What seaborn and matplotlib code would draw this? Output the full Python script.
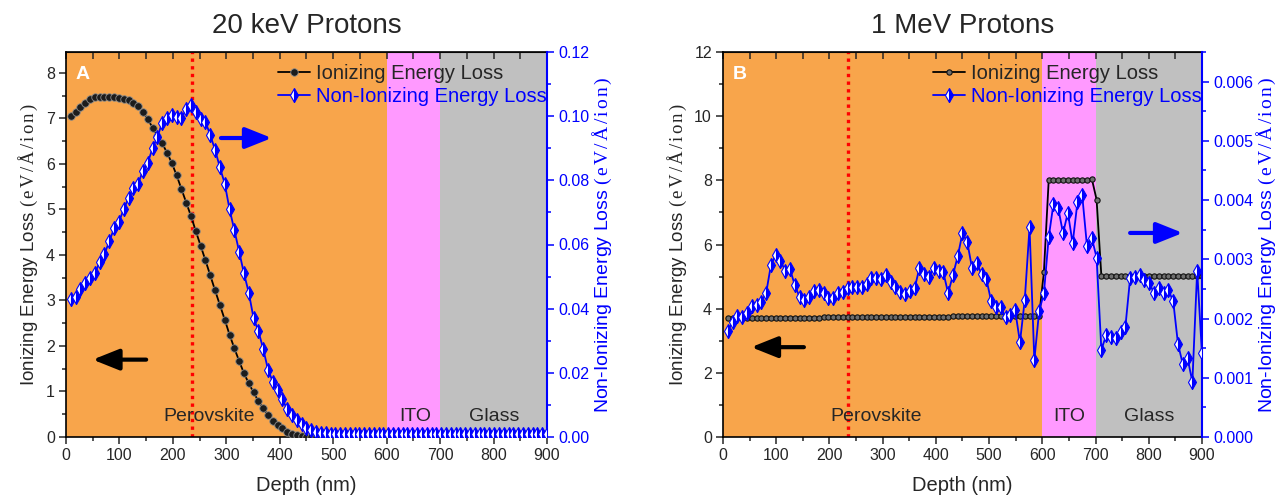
import numpy as np
import seaborn as sns
import matplotlib.pyplot as plt
from matplotlib.ticker import MultipleLocator, FormatStrFormatter
import matplotlib.transforms as mtransforms

# SRIM output, 100 depth bins of 9 nm through perovskite / ITO / glass
depth_nm = np.arange(9, 901, 9)

iel_20kev = [
    7.05, 7.15, 7.25, 7.35, 7.43, 7.47, 7.48, 7.48, 7.48, 7.47,
    7.46, 7.43, 7.40, 7.35, 7.27, 7.15, 6.98, 6.80, 6.62, 6.45,
    6.25, 6.02, 5.75, 5.45, 5.15, 4.85, 4.52, 4.20, 3.88, 3.55,
    3.22, 2.90, 2.58, 2.25, 1.95, 1.67, 1.40, 1.18, 0.98, 0.79,
    0.63, 0.48, 0.36, 0.27, 0.19, 0.12, 0.07, 0.04, 0.02, 0.01,
    0.0, 0.0, 0.0, 0.0, 0.0, 0.0, 0.0, 0.0, 0.0, 0.0,
    0.0, 0.0, 0.0, 0.0, 0.0, 0.0, 0.0, 0.0, 0.0, 0.0,
    0.0, 0.0, 0.0, 0.0, 0.0, 0.0, 0.0, 0.0, 0.0, 0.0,
    0.0, 0.0, 0.0, 0.0, 0.0, 0.0, 0.0, 0.0, 0.0, 0.0,
    0.0, 0.0, 0.0, 0.0, 0.0, 0.0, 0.0, 0.0, 0.0, 0.0,
]
niel_20kev = [
    0.0430, 0.0437, 0.0460, 0.0480, 0.0495, 0.0510, 0.0545, 0.0570, 0.0610, 0.0650,
    0.0670, 0.0710, 0.0745, 0.0775, 0.0790, 0.0830, 0.0855, 0.0900, 0.0935, 0.0980,
    0.0995, 0.1003, 0.0998, 0.0993, 0.1022, 0.1035, 0.1012, 0.0990, 0.0983, 0.0940,
    0.0895, 0.0840, 0.0790, 0.0710, 0.0645, 0.0578, 0.0510, 0.0450, 0.0370, 0.0330,
    0.0275, 0.0210, 0.0172, 0.0146, 0.0117, 0.0086, 0.0070, 0.0052, 0.0039, 0.0029,
    0.0021, 0.0017, 0.0013, 0.0011, 0.0008, 0.0008, 0.0008, 0.0008, 0.0008, 0.0008,
    0.0008, 0.0008, 0.0008, 0.0008, 0.0008, 0.0008, 0.0008, 0.0008, 0.0008, 0.0008,
    0.0008, 0.0008, 0.0008, 0.0008, 0.0008, 0.0008, 0.0008, 0.0008, 0.0008, 0.0008,
    0.0008, 0.0008, 0.0008, 0.0008, 0.0008, 0.0008, 0.0008, 0.0008, 0.0008, 0.0008,
    0.0008, 0.0008, 0.0008, 0.0008, 0.0008, 0.0008, 0.0008, 0.0008, 0.0008, 0.0008,
]
iel_1mev = [
    3.70, 3.70, 3.70, 3.70, 3.70, 3.71, 3.71, 3.71, 3.71, 3.71,
    3.71, 3.72, 3.72, 3.72, 3.72, 3.72, 3.72, 3.72, 3.72, 3.72,
    3.73, 3.73, 3.73, 3.73, 3.73, 3.73, 3.73, 3.73, 3.73, 3.74,
    3.74, 3.74, 3.74, 3.74, 3.74, 3.74, 3.74, 3.74, 3.75, 3.75,
    3.75, 3.75, 3.75, 3.75, 3.75, 3.75, 3.75, 3.76, 3.76, 3.76,
    3.76, 3.76, 3.76, 3.76, 3.76, 3.76, 3.76, 3.77, 3.77, 3.77,
    3.77, 3.77, 3.77, 3.77, 3.77, 3.77, 5.15, 8.00, 8.00, 8.00,
    8.00, 8.00, 8.00, 8.00, 8.00, 8.00, 8.05, 7.40, 5.02, 5.02,
    5.02, 5.02, 5.02, 5.02, 5.02, 5.02, 5.02, 5.02, 5.02, 5.02,
    5.02, 5.02, 5.02, 5.02, 5.02, 5.02, 5.02, 5.02, 5.02, 5.02,
]
niel_1mev = [
    0.00179, 0.00195, 0.00204, 0.00203, 0.00209, 0.00221, 0.00223, 0.00228, 0.00243, 0.00290,
    0.00308, 0.00297, 0.00281, 0.00283, 0.00256, 0.00236, 0.00231, 0.00236, 0.00246, 0.00249,
    0.00243, 0.00234, 0.00234, 0.00243, 0.00245, 0.00251, 0.00254, 0.00254, 0.00254, 0.00258,
    0.00268, 0.00268, 0.00266, 0.00273, 0.00261, 0.00253, 0.00244, 0.00241, 0.00246, 0.00251,
    0.00285, 0.00276, 0.00270, 0.00285, 0.00281, 0.00278, 0.00243, 0.00273, 0.00305, 0.00344,
    0.00329, 0.00285, 0.00293, 0.00275, 0.00266, 0.00229, 0.00219, 0.00219, 0.00202, 0.00206,
    0.00214, 0.00160, 0.00231, 0.00354, 0.00130, 0.00212, 0.00243, 0.00337, 0.00394, 0.00386,
    0.00344, 0.00379, 0.00327, 0.00396, 0.00408, 0.00322, 0.00336, 0.00303, 0.00147, 0.00172,
    0.00168, 0.00167, 0.00177, 0.00185, 0.00268, 0.00270, 0.00273, 0.00265, 0.00260, 0.00243,
    0.00251, 0.00243, 0.00248, 0.00229, 0.00157, 0.00123, 0.00133, 0.00093, 0.00281, 0.00141,
]

layer_names = ['Perovskite', 'ITO', 'Glass']
layer_start = [0, 600, 700]
layer_end = [600, 700, 900]
layer_colors = ['#F8A54B', '#FF99FF', '#C0C0C0']
peak_depth = 235

sns.set_style('ticks')
plt.rcParams['font.family'] = ['Liberation Sans', 'DejaVu Sans']
plt.rcParams['mathtext.fontset'] = 'custom'
plt.rcParams['mathtext.rm'] = 'Liberation Serif'
plt.rcParams['mathtext.it'] = 'Liberation Serif:italic'
plt.rcParams['mathtext.bf'] = 'Liberation Serif:bold'

BLUE = '#0000FF'
# serif unit part of the y labels, spaced out a little like the original
UNIT = r'$\mathrm{(\,e\,V\,/\,Å\,/\,i\,o\,n\,)}$'


def draw_panel(fig, rect, title, letter, iel, niel, left_max, left_step,
               right_max, right_step, right_fmt, label_x, arrows, small):
    ax = fig.add_axes(rect)
    for name, x0, x1, c in zip(layer_names, layer_start, layer_end, layer_colors):
        ax.axvspan(x0, x1, color=c, lw=0, zorder=0)
    trans = mtransforms.blended_transform_factory(ax.transData, ax.transAxes)
    for name, x in zip(layer_names, label_x):
        ax.text(x, 0.052, name, transform=trans, ha='center', va='center', fontsize=14)
    ax.axvline(peak_depth, color='red', ls=(0, (1, 1.3)), lw=2.4, zorder=1)

    if small:
        circ = dict(markersize=3.8, markerfacecolor='#6e6e6e', markeredgecolor='#111111', markeredgewidth=0.8)
        dia = dict(markersize=7, markeredgewidth=0.8)
    else:
        circ = dict(markersize=5.4, markerfacecolor='#1c1c1c', markeredgecolor='#8a8a8a', markeredgewidth=0.6)
        dia = dict(markersize=7.2, markeredgewidth=0.8)

    sns.lineplot(x=depth_nm, y=iel, ax=ax, color='black', lw=1.3, marker='o',
                 label='Ionizing Energy Loss', legend=False, zorder=3, **circ)
    l_iel = ax.get_lines()[-1]
    ax.set_xlim(0, 900)
    ax.set_ylim(0, left_max)

    ax2 = ax.twinx()
    sns.lineplot(x=depth_nm, y=niel, ax=ax2, color=BLUE, lw=1.3, marker='d',
                 fillstyle='right', markerfacecolor=BLUE, markerfacecoloralt='white',
                 markeredgecolor=BLUE, label='Non-Ionizing Energy Loss', legend=False,
                 zorder=3, **dia)
    l_niel = ax2.get_lines()[-1]
    ax2.set_ylim(0, right_max)
    ax2.set_xlim(0, 900)

    # arrows pointing to the axis each curve belongs to
    for (x0, x1, y, c) in arrows:
        ax.annotate('', xy=(x1, y), xytext=(x0, y),
                    arrowprops=dict(arrowstyle='-|>,head_length=0.8,head_width=0.32',
                                    color=c, lw=3, mutation_scale=20,
                                    shrinkA=0, shrinkB=0), zorder=2)

    ax.text(0.02, 0.942, letter, transform=ax.transAxes, color='white',
            fontweight='bold', fontsize=14, va='center', ha='left')

    # axes styling
    ax.xaxis.set_major_locator(MultipleLocator(100))
    ax.xaxis.set_minor_locator(MultipleLocator(50))
    ax.yaxis.set_major_locator(MultipleLocator(left_step))
    ax.yaxis.set_minor_locator(MultipleLocator(left_step / 2))
    ax.tick_params(which='major', direction='out', length=5, width=1.1, labelsize=11.5, pad=3)
    ax.tick_params(which='minor', direction='out', length=3, width=1.1)
    for s in ax.spines.values():
        s.set_linewidth(1.2)
        s.set_color('black')
    top = ax.secondary_xaxis('top')
    top.set_xticks(np.arange(0, 901, 50))
    top.xaxis.set_ticklabels([])
    top.tick_params(direction='in', length=5, width=1.1)

    ax2.yaxis.set_major_locator(MultipleLocator(right_step))
    ax2.yaxis.set_minor_locator(MultipleLocator(right_step / 2))
    ax2.yaxis.set_major_formatter(FormatStrFormatter(right_fmt))
    ax2.tick_params(which='major', direction='out', length=5, width=1.1,
                    colors=BLUE, labelsize=11.5, pad=3)
    ax2.tick_params(which='minor', direction='out', length=3, width=1.1, colors=BLUE)
    for side in ['left', 'top', 'bottom']:
        ax2.spines[side].set_visible(False)
    ax2.spines['right'].set_color(BLUE)
    ax2.spines['right'].set_linewidth(1.5)

    ax.set_xlabel('Depth (nm)', fontsize=14.5, labelpad=9)
    ax.set_ylabel('Ionizing Energy Loss ' + UNIT, fontsize=13.5, labelpad=4)
    ax2.set_ylabel('Non-Ionizing Energy Loss ' + UNIT, fontsize=14,
                   color=BLUE, labelpad=1)
    ax.set_title(title, fontsize=20, pad=14)

    leg = ax2.legend([l_iel, l_niel], ['Ionizing Energy Loss', 'Non-Ionizing Energy Loss'],
                     loc='upper right', bbox_to_anchor=(1.004, 0.975), frameon=False,
                     fontsize=14.5, handlelength=1.6, handletextpad=0.3,
                     labelspacing=0.2, borderpad=0.1, borderaxespad=0.0)
    leg.get_texts()[1].set_color(BLUE)
    return ax, ax2


fig = plt.figure(figsize=(12.84, 5.0), dpi=100)

draw_panel(fig, [0.0514, 0.126, 0.3746, 0.77], '20 keV Protons', 'A',
           iel_20kev, niel_20kev, 8.46, 1, 0.12, 0.02, '%.2f',
           [268, 654, 802],
           [(150, 50, 1.7, 'black'), (290, 385, 6.57, BLUE)], small=False)

draw_panel(fig, [0.5631, 0.126, 0.373, 0.77], '1 MeV Protons', 'B',
           iel_1mev, niel_1mev, 12, 2, 0.0065, 0.001, '%.3f',
           [288, 650, 800],
           [(152, 53, 2.8, 'black'), (765, 864, 6.36, BLUE)], small=True)

fig.savefig('out.png', dpi=100)
